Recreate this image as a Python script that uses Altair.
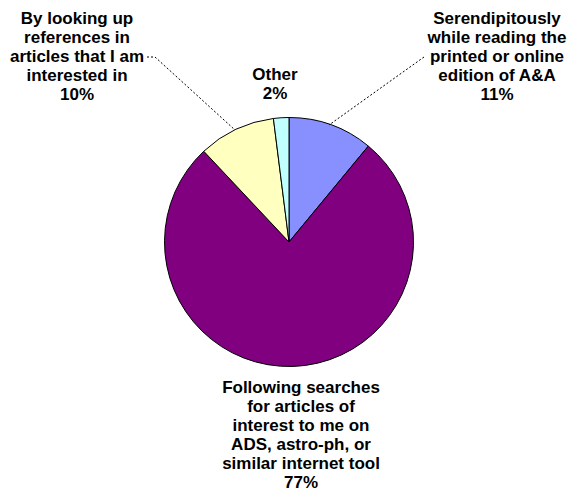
import altair as alt
import pandas as pd

# ---- data ----
categories = [
    "Serendipitously while reading the printed or online edition of A&A",
    "Following searches for articles of interest to me on ADS, astro-ph, or similar internet tool",
    "By looking up references in articles that I am interested in",
    "Other",
]
label_lines = [
    ["Serendipitously", "while reading the", "printed or online", "edition of A&A"],
    ["Following searches", "for articles of", "interest to me on", "ADS, astro-ph, or", "similar internet tool"],
    ["By looking up", "references in", "articles that I am", "interested in"],
    ["Other"],
]
values = [11, 77, 10, 2]

# ---- styling / layout ----
colors = ["#8890FF", "#800080", "#FFFFC0", "#C0FFFF"]
pie_cx, pie_cy, pie_r = 281, 234, 124.5
label_x = [489, 293, 69, 267]
label_y = [16, 385, 16, 72]
leader_x = [416, 139, 147]
leader_y = [49, 49, 49]
leader_x2 = [321, 147, 227]
leader_y2 = [117, 49, 122]

pie_df = pd.DataFrame({
    "category": categories,
    "value": values,
    "order": list(range(len(categories))),
})

label_df = pd.DataFrame({
    "text": ["\n".join(lines + [f"{v}%"]) for lines, v in zip(label_lines, values)],
    "x": label_x,
    "y": label_y,
})

leader_df = pd.DataFrame({
    "x": leader_x, "y": leader_y, "x2": leader_x2, "y2": leader_y2,
})

pie = alt.Chart(pie_df).mark_arc(
    outerRadius=pie_r, stroke="black", strokeWidth=1
).encode(
    theta=alt.Theta("value:Q", stack=True),
    color=alt.Color("category:N", scale=alt.Scale(domain=categories, range=colors), legend=None),
    order=alt.Order("order:Q"),
    x=alt.value(pie_cx),
    y=alt.value(pie_cy),
)

leaders = alt.Chart(leader_df).mark_rule(
    color="black", strokeWidth=1, strokeDash=[2, 2]
).encode(
    x=alt.X("x:Q", scale=None, axis=None),
    y=alt.Y("y:Q", scale=None, axis=None),
    x2="x2:Q",
    y2="y2:Q",
)

labels = alt.Chart(label_df).mark_text(
    font="Liberation Sans", fontWeight="bold", fontSize=17,
    align="center", baseline="alphabetic", lineBreak="\n", lineHeight=19,
    color="black",
).encode(
    x=alt.X("x:Q", scale=None, axis=None),
    y=alt.Y("y:Q", scale=None, axis=None),
    text="text:N",
)

chart = alt.layer(pie, leaders, labels).properties(
    width=562, height=485, padding=0, autosize="none",
    background="white",
).configure_view(stroke=None)

chart.save("out.html", embed_options={"renderer": "svg", "actions": False})
